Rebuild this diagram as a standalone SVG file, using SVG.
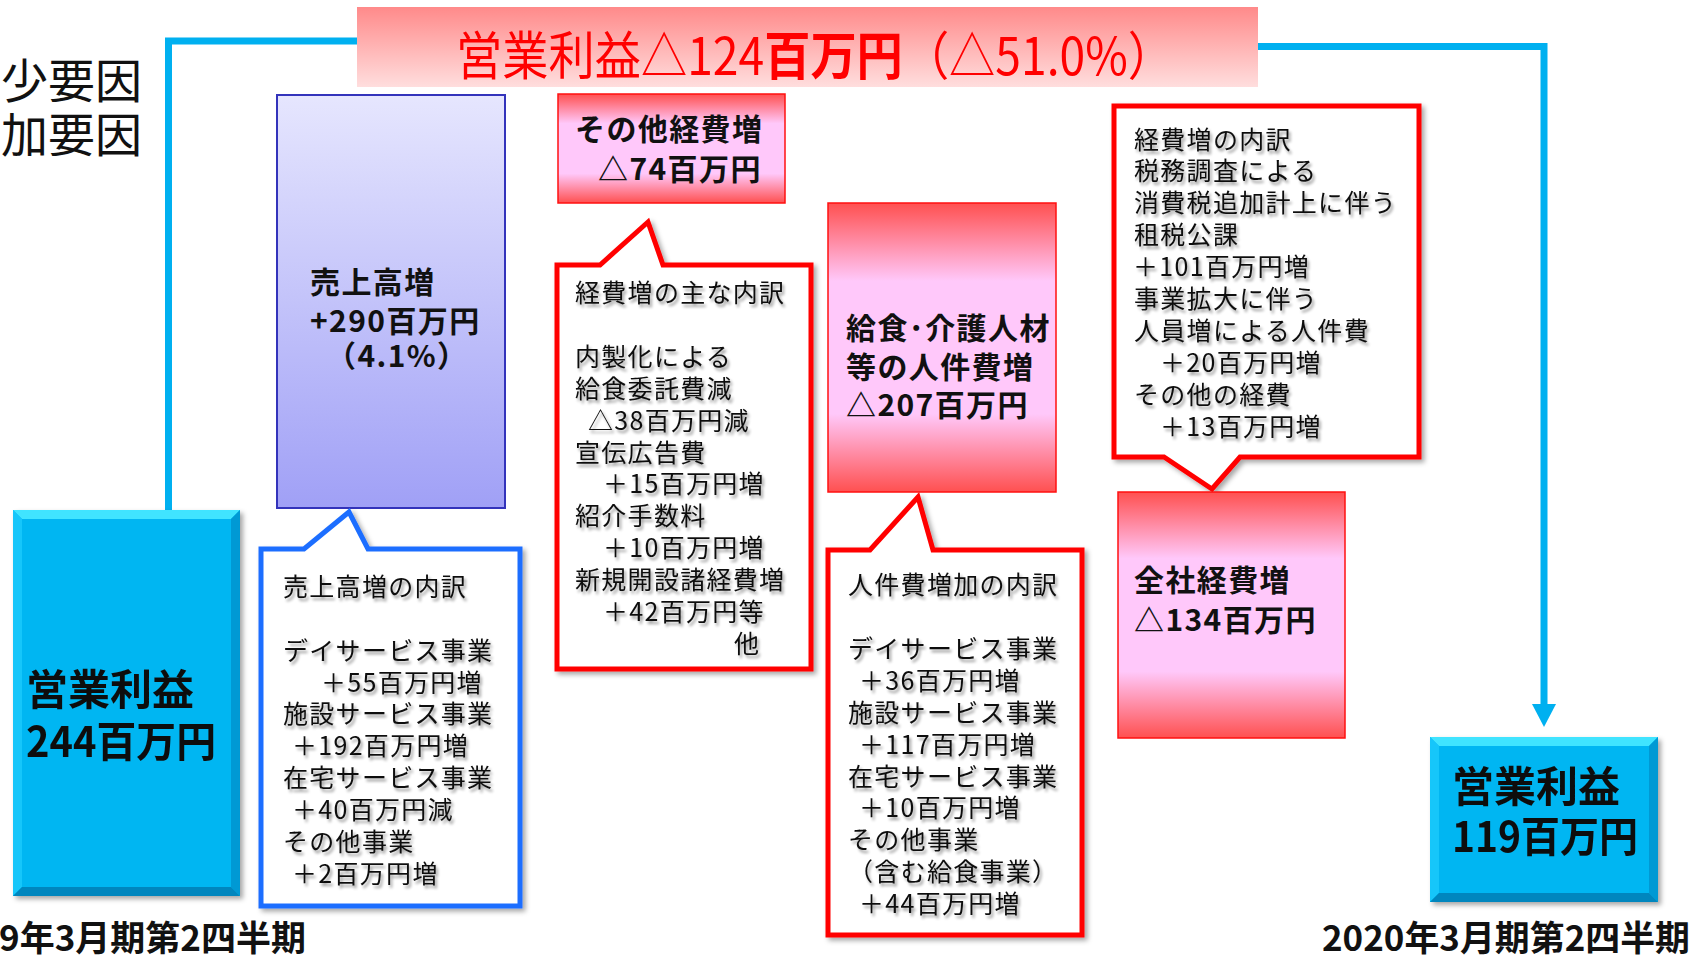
<svg xmlns="http://www.w3.org/2000/svg" width="1696" height="961" viewBox="0 0 1696 961">
<defs>
<style>
.t{font-family:"Noto Sans CJK JP","Noto Sans",sans-serif;fill:#111}
.cal{font-size:25px;letter-spacing:1.3px}
.bb{font-size:30px;font-weight:700;letter-spacing:1.4px}
.big{font-size:42px;font-weight:700}
.lbl{font-size:35px;font-weight:700}
.conn{fill:none;stroke:#00B0F0;stroke-width:7}
.redc{fill:#fff;stroke:#FF0000;stroke-width:5;stroke-linejoin:miter}
.bluec{fill:#fff;stroke:#1E6EFF;stroke-width:5;stroke-linejoin:miter}
.redbox{fill:url(#gRed);stroke:#FF1010;stroke-width:1.5}
</style>
<linearGradient id="gBanner" x1="0" y1="0" x2="0" y2="1"><stop offset="0" stop-color="#FF8A8A"/><stop offset="1" stop-color="#FFDEDE"/></linearGradient>
<linearGradient id="gBlue" x1="0" y1="0" x2="0" y2="1"><stop offset="0" stop-color="#E6E6FE"/><stop offset="1" stop-color="#A0A0F6"/></linearGradient>
<linearGradient id="gRed" x1="0" y1="0" x2="0" y2="1"><stop offset="0" stop-color="#FF5050"/><stop offset="0.27" stop-color="#FFC8FA"/><stop offset="0.73" stop-color="#FFC8FA"/><stop offset="1" stop-color="#FF5050"/></linearGradient>
<filter id="ds" x="-10%" y="-10%" width="125%" height="125%"><feDropShadow dx="3" dy="3" stdDeviation="2.5" flood-color="#000" flood-opacity="0.35"/></filter>
<filter id="ts" x="-5%" y="-20%" width="115%" height="160%"><feGaussianBlur in="SourceAlpha" stdDeviation="1.5" result="b"/><feOffset dx="2" dy="2.5" in="b" result="o"/><feComponentTransfer in="o" result="c"><feFuncA type="linear" slope="0.4"/></feComponentTransfer><feMerge><feMergeNode in="c"/><feMergeNode in="SourceGraphic"/></feMerge></filter>
</defs>
<rect width="1696" height="961" fill="#fff"/>

<g id="legend">
<text class="t" x="142" y="98" font-size="47" text-anchor="end">少要因</text>
<text class="t" x="142" y="152" font-size="47" text-anchor="end">加要因</text>
</g>

<g id="connectors">
<polyline class="conn" points="168.5,512 168.5,41 358,41"/>
<polyline class="conn" points="1256,46.5 1544,46.5 1544,706"/>
<polygon points="1532,704 1556,704 1544,727" fill="#00B0F0"/>
</g>

<g id="banner">
<rect x="357" y="7" width="901" height="80" fill="url(#gBanner)"/>
<text x="456" y="75" font-family="&quot;Noto Sans CJK JP&quot;,sans-serif" font-size="52" fill="#FF0000" textLength="718" lengthAdjust="spacingAndGlyphs">営業利益△124<tspan font-weight="700">百万円</tspan>（△51.0%）</text>
</g>

<g id="start-profit" filter="url(#ds)">
<rect x="13" y="510" width="227" height="386" fill="#00B6F2"/>
<polygon points="13,510 240,510 231,519 22,519" fill="#40E4FF"/>
<polygon points="13,510 22,519 22,887 13,896" fill="#14C6FA"/>
<polygon points="240,510 240,896 231,887 231,519" fill="#0099D4"/>
<polygon points="13,896 240,896 231,887 22,887" fill="#0086BE"/>
<text class="t big" x="26" y="705">営業利益</text>
<text class="t big" x="26" y="757" textLength="190" lengthAdjust="spacingAndGlyphs">244百万円</text>
</g>
<text class="t lbl" x="306" y="951" text-anchor="end">9年3月期第2四半期</text>

<g id="sales-up">
<rect x="277" y="95" width="228" height="413" fill="url(#gBlue)" stroke="#3333BB" stroke-width="2"/>
<text class="t bb" x="310" y="293">売上高増</text>
<text class="t bb" x="310" y="332">+290百万円</text>
<text class="t bb" x="326" y="367">（4.1%）</text>
</g>

<g id="sales-callout">
<path class="bluec" filter="url(#ds)" d="M261,549 H304 L349,512 L368,549 H520 V906 H261 Z"/>
<g filter="url(#ts)" class="t cal">
<text x="283" y="596">売上高増の内訳</text>
<text x="283" y="660">デイサービス事業</text>
<text x="321" y="692">＋55百万円増</text>
<text x="283" y="723">施設サービス事業</text>
<text x="292" y="755">＋192百万円増</text>
<text x="283" y="787">在宅サービス事業</text>
<text x="292" y="819">＋40百万円減</text>
<text x="283" y="851">その他事業</text>
<text x="292" y="883">＋2百万円増</text>
</g>
</g>

<g id="other-exp">
<rect class="redbox" x="558" y="94" width="227" height="109"/>
<text class="t bb" x="575" y="140">その他経費増</text>
<text class="t bb" x="598" y="180">△74百万円</text>
</g>

<g id="other-callout">
<path class="redc" filter="url(#ds)" d="M557,265 H600 L648,222 L663,265 H811 V669 H557 Z"/>
<g filter="url(#ts)" class="t cal">
<text x="575" y="302">経費増の主な内訳</text>
<text x="575" y="366">内製化による</text>
<text x="575" y="398">給食委託費減</text>
<text x="588" y="430">△38百万円減</text>
<text x="575" y="462">宣伝広告費</text>
<text x="603" y="493">＋15百万円増</text>
<text x="575" y="525">紹介手数料</text>
<text x="603" y="557">＋10百万円増</text>
<text x="575" y="589">新規開設諸経費増</text>
<text x="603" y="621">＋42百万円等</text>
<text x="734" y="653">他</text>
</g>
</g>

<g id="personnel">
<rect class="redbox" x="828" y="203" width="228" height="289"/>
<text class="t bb" x="846" y="339">給食･介護人材</text>
<text class="t bb" x="846" y="378">等の人件費増</text>
<text class="t bb" x="846" y="416">△207百万円</text>
</g>

<g id="personnel-callout">
<path class="redc" filter="url(#ds)" d="M828,550 H870 L918,497 L933,550 H1082 V935 H828 Z"/>
<g filter="url(#ts)" class="t cal">
<text x="848" y="594">人件費増加の内訳</text>
<text x="848" y="658">デイサービス事業</text>
<text x="859" y="690">＋36百万円増</text>
<text x="848" y="722">施設サービス事業</text>
<text x="859" y="754">＋117百万円増</text>
<text x="848" y="786">在宅サービス事業</text>
<text x="859" y="817">＋10百万円増</text>
<text x="848" y="849">その他事業</text>
<text x="848" y="881">（含む給食事業）</text>
<text x="859" y="913">＋44百万円増</text>
</g>
</g>

<g id="company-callout">
<path class="redc" filter="url(#ds)" d="M1114,106 H1419 V457 H1240 L1212,489 L1164,457 H1114 Z"/>
<g filter="url(#ts)" class="t cal">
<text x="1134" y="149">経費増の内訳</text>
<text x="1134" y="180">税務調査による</text>
<text x="1134" y="212">消費税追加計上に伴う</text>
<text x="1134" y="244">租税公課</text>
<text x="1133" y="276">＋101百万円増</text>
<text x="1134" y="308">事業拡大に伴う</text>
<text x="1134" y="340">人員増による人件費</text>
<text x="1160" y="372">＋20百万円増</text>
<text x="1134" y="404">その他の経費</text>
<text x="1160" y="436">＋13百万円増</text>
</g>
</g>

<g id="company-exp">
<rect class="redbox" x="1118" y="492" width="227" height="246"/>
<text class="t bb" x="1134" y="591">全社経費増</text>
<text class="t bb" x="1134" y="631">△134百万円</text>
</g>

<g id="end-profit" filter="url(#ds)">
<rect x="1430" y="737" width="228" height="165" fill="#00B6F2"/>
<polygon points="1430,737 1658,737 1649,746 1439,746" fill="#40E4FF"/>
<polygon points="1430,737 1439,746 1439,893 1430,902" fill="#14C6FA"/>
<polygon points="1658,737 1658,902 1649,893 1649,746" fill="#0099D4"/>
<polygon points="1430,902 1658,902 1649,893 1439,893" fill="#0086BE"/>
<text class="t big" x="1452" y="802">営業利益</text>
<text class="t big" x="1452" y="852" textLength="186" lengthAdjust="spacingAndGlyphs">119百万円</text>
</g>
<text class="t lbl" x="1322" y="951" textLength="368" lengthAdjust="spacingAndGlyphs">2020年3月期第2四半期</text>
</svg>
